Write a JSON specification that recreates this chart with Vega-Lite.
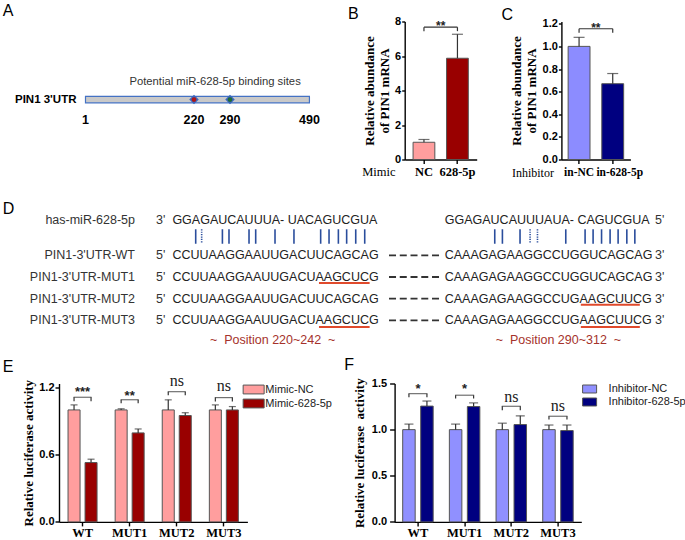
{
"$schema":"https://vega.github.io/schema/vega-lite/v6.json",
"background":"white",
"padding":{"left":2,"top":2.5,"right":0,"bottom":0},
"config":{
 "view":{"stroke":null},
 "font":"Liberation Sans",
 "axis":{"domainColor":"#000","domainWidth":1.4,"tickColor":"#000","tickWidth":1.4,"tickSize":4,"grid":false,"labelColor":"#000","labelFont":"Liberation Sans","labelFontWeight":"bold","labelFontSize":11,"titleColor":"#000","titleFont":"Liberation Serif","titleFontWeight":"bold","titleFontSize":13,"labelPadding":1,"labelOverlap":false},
 "axisY":{"tickCount":20,"labelOverlap":false,"labelSeparation":0},
 "title":{"font":"Liberation Sans","fontSize":16,"fontWeight":"normal","anchor":"start","frame":"group","offset":0,"color":"#000","baseline":"alphabetic"},
 "legend":{"labelFont":"Liberation Sans","labelFontSize":11,"labelColor":"#222","padding":0}
},
"spacing":4,
"resolve":{"scale":{"color":"independent","xOffset":"independent","strokeDash":"independent","x":"independent","y":"independent"},"legend":{"color":"independent"}},
"vconcat":[
 {"hconcat":[
   {"width":260.3,"height":138,
    "title":{"text":"A","dx":-56.3,"dy":1.1},
    "layer":[
     {"data":{"values":[{"start":1,"end":490}]},
      "mark":{"type":"rect","fill":"#c9c9c9","stroke":"#4472c4","strokeWidth":1.2},
      "encoding":{"x":{"field":"start","type":"quantitative","scale":{"domain":[1,220,290,490],"range":[26,135,171,254.4]},"axis":null},"x2":{"field":"end"},
        "y":{"datum":0.457,"type":"quantitative","scale":{"domain":[0,1],"nice":false},"axis":null},"y2":{"datum":0.411}}},
     {"data":{"values":[{"pos":220,"site":"site 1"},{"pos":290,"site":"site 2"}]},
      "mark":{"type":"point","shape":"diamond","filled":true,"size":90,"color":"#3a67c0","opacity":1},
      "encoding":{"x":{"field":"pos","type":"quantitative"},"y":{"datum":0.434}}},
     {"data":{"values":[{"pos":220,"site":"site 1"},{"pos":290,"site":"site 2"}]},
      "mark":{"type":"point","shape":"circle","filled":true,"size":22,"opacity":1},
      "encoding":{"x":{"field":"pos","type":"quantitative"},"y":{"datum":0.434},"color":{"field":"site","type":"nominal","scale":{"domain":["site 1","site 2"],"range":["#b01515","#1f6b35"]},"legend":null}}},
     {"data":{"values":[{"pos":1,"label":"1"},{"pos":220,"label":"220"},{"pos":290,"label":"290"},{"pos":490,"label":"490"}]},
      "mark":{"type":"text","font":"Liberation Sans","fontWeight":"bold","fontSize":12.5,"color":"#000","baseline":"middle","align":"center"},
      "encoding":{"x":{"field":"pos","type":"quantitative"},"y":{"datum":0.286},"text":{"field":"label"}}},
     {"data":{"values":[{"pos":261,"label":"Potential miR-628-5p binding sites"}]},
      "mark":{"type":"text","font":"Liberation Sans","fontSize":11.25,"color":"#333","baseline":"middle","align":"center"},
      "encoding":{"x":{"field":"pos","type":"quantitative"},"y":{"datum":0.565},"text":{"field":"label"}}},
     {"data":{"values":[{"pos":1,"label":"PIN1 3'UTR"}]},
      "mark":{"type":"text","font":"Liberation Sans","fontWeight":"bold","fontSize":11.5,"color":"#000","baseline":"middle","align":"right","dx":-9},
      "encoding":{"x":{"field":"pos","type":"quantitative"},"y":{"datum":0.434},"text":{"field":"label"}}}
    ]},
   {"width":72,"height":138,
    "title":{"text":"B","dx":-56.6,"dy":10.3},
    "data":{"values":[{"group":"NC","mean":1.0,"upper":1.16},{"group":"628-5p","mean":5.87,"upper":7.26}]},
    "layer":[
     {"mark":{"type":"bar","stroke":"#555","strokeWidth":1},
      "encoding":{
       "x":{"field":"group","type":"nominal","scale":{"domain":["NC","628-5p"],"paddingInner":0.35,"paddingOuter":0.25},
            "axis":{"title":"Mimic","titleFont":"Liberation Serif","titleFontWeight":"normal","titleFontSize":12.5,"titleAnchor":"start","titleAlign":"left","titleBaseline":"middle","titleX":-43,"titleY":11.5,"labelAngle":0,"labelFont":"Liberation Serif","labelFontSize":12.5,"labelPadding":1.5}},
       "y":{"field":"mean","type":"quantitative","scale":{"domain":[0,8],"nice":false},
            "axis":{"title":["Relative abundance","of PIN1 mRNA"],"values":[0,2,4,6,8],"format":"d","tickCount":20,"labelOverlap":false,"tickSize":3,"labelPadding":1,"titlePadding":3,"titleLineHeight":15}},
       "color":{"field":"group","type":"nominal","scale":{"domain":["NC","628-5p"],"range":["#ff9e9e","#990000"]},"legend":null}}},
     {"mark":{"type":"rule","color":"#333","strokeWidth":1.2},
      "encoding":{"x":{"field":"group","type":"nominal"},"y":{"field":"mean","type":"quantitative"},"y2":{"field":"upper"}}},
     {"mark":{"type":"tick","color":"#333","thickness":1.2,"size":11},
      "encoding":{"x":{"field":"group","type":"nominal"},"y":{"field":"upper","type":"quantitative"}}},
     {"mark":{"type":"rule","color":"#333","strokeWidth":1.2},
      "encoding":{"x":{"field":"group","type":"nominal"},"y":{"datum":7.44},"y2":{"datum":7.67}}},
     {"data":{"values":[{"from":"NC","to":"628-5p","top":7.67,"label":"**","ly":7.74}]},
      "mark":{"type":"rule","color":"#333","strokeWidth":1.2},
      "encoding":{"x":{"field":"from","type":"nominal","bandPosition":0.5},"x2":{"field":"to","bandPosition":0.5},"y":{"field":"top","type":"quantitative"}}},
     {"data":{"values":[{"from":"NC","to":"628-5p","top":7.67,"label":"**","ly":7.74}]},
      "mark":{"type":"text","font":"Liberation Sans","fontWeight":"bold","fontSize":12,"color":"#222","baseline":"middle","align":"center","dx":16.75},
      "encoding":{"x":{"field":"from","type":"nominal"},"y":{"field":"ly","type":"quantitative"},"text":{"field":"label"}}}
    ]},
   {"width":69,"height":138,
    "title":{"text":"C","dx":-60,"dy":8.8},
    "data":{"values":[{"group":"in-NC","mean":1.0,"upper":1.08},{"group":"in-628-5p","mean":0.67,"upper":0.76}]},
    "layer":[
     {"mark":{"type":"bar","stroke":"#555","strokeWidth":1},
      "encoding":{
       "x":{"field":"group","type":"nominal","scale":{"domain":["in-NC","in-628-5p"],"paddingInner":0.35,"paddingOuter":0.2},
            "axis":{"title":"Inhibitor","titleFont":"Liberation Serif","titleFontWeight":"normal","titleFontSize":12,"titleAnchor":"start","titleAlign":"left","titleBaseline":"middle","titleX":-50,"titleY":12.5,"labelAngle":0,"labelFont":"Liberation Serif","labelFontSize":11.5,"labelPadding":2.5,
                    "labelOffset":{"condition":{"test":"datum.value === 'in-628-5p'","value":7},"value":0}}},
       "y":{"field":"mean","type":"quantitative","scale":{"domain":[0,1.22],"nice":false},
            "axis":{"title":["Relative abundance","of PIN1 mRNA"],"values":[0,0.2,0.4,0.6,0.8,1.0,1.2],"tickCount":20,"labelOverlap":false,"format":".1f","tickSize":3,"labelPadding":1,"titlePadding":4,"titleLineHeight":15}},
       "color":{"field":"group","type":"nominal","scale":{"domain":["in-NC","in-628-5p"],"range":["#8c8cff","#000080"]},"legend":null}}},
     {"mark":{"type":"rule","color":"#333","strokeWidth":1.2},
      "encoding":{"x":{"field":"group","type":"nominal"},"y":{"field":"mean","type":"quantitative"},"y2":{"field":"upper"}}},
     {"mark":{"type":"tick","color":"#333","thickness":1.2,"size":11},
      "encoding":{"x":{"field":"group","type":"nominal"},"y":{"field":"upper","type":"quantitative"}}},
     {"mark":{"type":"rule","color":"#333","strokeWidth":1.2},
      "encoding":{"x":{"field":"group","type":"nominal"},"y":{"datum":1.12},"y2":{"datum":1.156}}},
     {"data":{"values":[{"from":"in-NC","to":"in-628-5p","top":1.156,"label":"**","ly":1.165}]},
      "mark":{"type":"rule","color":"#333","strokeWidth":1.2},
      "encoding":{"x":{"field":"from","type":"nominal","bandPosition":0.5},"x2":{"field":"to","bandPosition":0.5},"y":{"field":"top","type":"quantitative"}}},
     {"data":{"values":[{"from":"in-NC","to":"in-628-5p","top":1.156,"label":"**","ly":1.165}]},
      "mark":{"type":"text","font":"Liberation Sans","fontWeight":"bold","fontSize":12,"color":"#222","baseline":"middle","align":"center","dx":16.8},
      "encoding":{"x":{"field":"from","type":"nominal"},"y":{"field":"ly","type":"quantitative"},"text":{"field":"label"}}}
    ]}
  ],
  "spacing":84.7,"bounds":"flush",
  "resolve":{"scale":{"color":"independent","xOffset":"independent","strokeDash":"independent","x":"independent","y":"independent"},"legend":{"color":"independent"}}},
 {"width":560,"height":170,
  "title":{"text":"D","dx":-56.3,"dy":38.9},
  "data":{"values":[
    {"name":"has-miR-628-5p","left":"3'","seq1":"GGAGAUCAUUUA- UACAGUCGUA","seq2":"GGAGAUCAUUUAUA- CAGUCGUA","right":"5'","line":0.36},
    {"name":"PIN1-3'UTR-WT","left":"5'","seq1":"CCUUAAGGAAUUGACUUCAGCAG","seq2":"CAAAGAGAAGGCCUGGUCAGCAG","right":"3'","line":2},
    {"name":"PIN1-3'UTR-MUT1","left":"5'","seq1":"CCUUAAGGAAUUGACUAAGCUCG","seq2":"CAAAGAGAAGGCCUGGUCAGCAG","right":"3'","line":3},
    {"name":"PIN1-3'UTR-MUT2","left":"5'","seq1":"CCUUAAGGAAUUGACUUCAGCAG","seq2":"CAAAGAGAAGGCCUGAAGCUUCG","right":"3'","line":4},
    {"name":"PIN1-3'UTR-MUT3","left":"5'","seq1":"CCUUAAGGAAUUGACUAAGCUCG","seq2":"CAAAGAGAAGGCCUGAAGCUUCG","right":"3'","line":5}
  ]},
  "layer":[
   {"mark":{"type":"text","align":"right","baseline":"middle","fontSize":12.5,"color":"#333"},
    "encoding":{"x":{"datum":-4.2,"type":"quantitative","scale":{"domain":[-12.74,50.18],"nice":false,"zero":false},"axis":null},
      "y":{"field":"line","type":"quantitative","scale":{"domain":[-1.355,6.479],"reverse":true,"nice":false,"zero":false},"axis":null},
      "text":{"field":"name"}}},
   {"mark":{"type":"text","align":"center","baseline":"middle","fontSize":12.5,"color":"#333"},
    "encoding":{"x":{"datum":-1.31,"type":"quantitative"},"y":{"field":"line","type":"quantitative"},"text":{"field":"left"}}},
   {"mark":{"type":"text","align":"left","baseline":"middle","fontSize":12.5,"color":"#222"},
    "encoding":{"x":{"datum":0,"type":"quantitative"},"y":{"field":"line","type":"quantitative"},"text":{"field":"seq1"}}},
   {"mark":{"type":"text","align":"left","baseline":"middle","fontSize":12.5,"color":"#222"},
    "encoding":{"x":{"datum":30.6,"type":"quantitative"},"y":{"field":"line","type":"quantitative"},"text":{"field":"seq2"}}},
   {"mark":{"type":"text","align":"center","baseline":"middle","fontSize":12.5,"color":"#333"},
    "encoding":{"x":{"datum":54.75,"type":"quantitative"},"y":{"field":"line","type":"quantitative"},"text":{"field":"right"}}},
   {"transform":[{"filter":"datum.line >= 2"}],
    "mark":{"type":"rule","color":"#333","strokeWidth":1.8,"strokeDash":[7,3.75]},
    "encoding":{"x":{"datum":24.34,"type":"quantitative"},"x2":{"datum":29.96},"y":{"field":"line","type":"quantitative"}}},
   {"data":{"values":[
     {"col":2.62,"kind":"solid"},{"col":3.29,"kind":"dotted"},{"col":5.62,"kind":"solid"},{"col":6.36,"kind":"solid"},{"col":8.61,"kind":"solid"},{"col":9.36,"kind":"solid"},{"col":11.53,"kind":"solid"},{"col":13.66,"kind":"solid"},{"col":16.66,"kind":"solid"},{"col":17.6,"kind":"solid"},{"col":18.65,"kind":"solid"},{"col":19.58,"kind":"solid"},{"col":20.6,"kind":"solid"},{"col":21.61,"kind":"solid"},
     {"col":36.22,"kind":"solid"},{"col":37.08,"kind":"solid"},{"col":39.06,"kind":"solid"},{"col":40.19,"kind":"dotted"},{"col":41.02,"kind":"dotted"},{"col":44.2,"kind":"solid"},{"col":46.37,"kind":"solid"},{"col":47.27,"kind":"solid"},{"col":48.22,"kind":"solid"},{"col":49.18,"kind":"solid"},{"col":50.08,"kind":"solid"},{"col":51.06,"kind":"solid"},{"col":51.96,"kind":"solid"}
    ]},
    "mark":{"type":"rule","color":"#2a4d9c","strokeWidth":1.6},
    "encoding":{"x":{"field":"col","type":"quantitative"},"y":{"datum":0.8},"y2":{"datum":1.465},
      "strokeDash":{"field":"kind","type":"nominal","scale":{"domain":["solid","dotted"],"range":[[1,0],[1.2,1.2]]},"legend":null}}},
   {"data":{"values":[{"from":16.47,"to":22.16,"uy":3.28},{"from":45.89,"to":52.52,"uy":4.28},{"from":16.47,"to":22.16,"uy":5.3},{"from":45.89,"to":52.52,"uy":5.3}]},
    "mark":{"type":"rule","color":"#e04a2c","strokeWidth":2},
    "encoding":{"x":{"field":"from","type":"quantitative"},"x2":{"field":"to"},"y":{"field":"uy","type":"quantitative"}}},
   {"data":{"values":[{"label":"~\u00a0\u00a0Position 220~242\u00a0\u00a0~","col":11.27},{"label":"~\u00a0\u00a0Position 290~312\u00a0\u00a0~","col":43.37}]},
    "mark":{"type":"text","align":"center","baseline":"middle","fontSize":12.5,"color":"#a5322b"},
    "encoding":{"x":{"field":"col","type":"quantitative"},"y":{"datum":5.92},"text":{"field":"label"}}}
  ]},
 {"hconcat":[
   {"width":188.4,"height":138.4,
    "title":{"text":"E","dx":-56.3,"dy":5.7},
    "data":{"values":[
      {"construct":"WT","treatment":"Mimic-NC","mean":1.0,"upper":1.045},
      {"construct":"WT","treatment":"Mimic-628-5p","mean":0.53,"upper":0.56},
      {"construct":"MUT1","treatment":"Mimic-NC","mean":1.0,"upper":1.01},
      {"construct":"MUT1","treatment":"Mimic-628-5p","mean":0.795,"upper":0.83},
      {"construct":"MUT2","treatment":"Mimic-NC","mean":1.0,"upper":1.09},
      {"construct":"MUT2","treatment":"Mimic-628-5p","mean":0.95,"upper":0.975},
      {"construct":"MUT3","treatment":"Mimic-NC","mean":1.0,"upper":1.045},
      {"construct":"MUT3","treatment":"Mimic-628-5p","mean":1.0,"upper":1.03}
    ]},
    "layer":[
     {"mark":{"type":"bar","stroke":"#555","strokeWidth":1},
      "encoding":{
       "x":{"field":"construct","type":"nominal","scale":{"domain":["WT","MUT1","MUT2","MUT3"],"paddingInner":0,"paddingOuter":0},"axis":{"title":null,"labelAngle":0,"labelFont":"Liberation Serif","labelFontSize":12.5,"labelPadding":1}},
       "xOffset":{"field":"treatment","type":"nominal","scale":{"domain":["Mimic-NC","Mimic-628-5p"],"paddingInner":0.294,"paddingOuter":0.532}},
       "y":{"field":"mean","type":"quantitative","scale":{"domain":[0,1.236],"nice":false},"axis":{"title":"Relative luciferase activity","values":[0,0.3,0.6,0.9,1.2],"tickCount":20,"tickMinStep":0.3,"labelOverlap":false,"format":".1f","tickSize":4,"labelPadding":1,"titlePadding":3}},
       "color":{"field":"treatment","type":"nominal","scale":{"domain":["Mimic-NC","Mimic-628-5p"],"range":["#ff9e9e","#990000"]},
         "legend":{"orient":"none","legendX":188.65,"legendY":0,"title":null,"symbolType":"M-2,-0.84H2V0.84H-2Z","symbolSize":110.25,"symbolStrokeColor":"#555","symbolStrokeWidth":1,"labelOffset":5.65,"rowPadding":0,"labelFontSize":11}}}},
     {"mark":{"type":"rule","color":"#333","strokeWidth":1.2},
      "encoding":{"x":{"field":"construct","type":"nominal"},"xOffset":{"field":"treatment","type":"nominal"},"y":{"field":"mean","type":"quantitative"},"y2":{"field":"upper"}}},
     {"mark":{"type":"tick","color":"#333","thickness":1.2,"size":7},
      "encoding":{"x":{"field":"construct","type":"nominal"},"xOffset":{"field":"treatment","type":"nominal"},"y":{"field":"upper","type":"quantitative"}}},
     {"transform":[{"lookup":"construct","from":{"data":{"values":[{"construct":"WT","top":1.113,"bottom":1.078},{"construct":"MUT1","top":1.091,"bottom":1.06},{"construct":"MUT2","top":1.163,"bottom":1.131},{"construct":"MUT3","top":1.11,"bottom":1.075}]},"key":"construct","fields":["top","bottom"]}}],
      "mark":{"type":"rule","color":"#333","strokeWidth":1.2},
      "encoding":{"x":{"field":"construct","type":"nominal"},"xOffset":{"field":"treatment","type":"nominal"},"y":{"field":"bottom","type":"quantitative"},"y2":{"field":"top"}}},
     {"data":{"values":[{"construct":"WT","top":1.113},{"construct":"MUT1","top":1.091},{"construct":"MUT2","top":1.163},{"construct":"MUT3","top":1.11}]},
      "mark":{"type":"tick","color":"#333","thickness":1.2,"size":18},
      "encoding":{"x":{"field":"construct","type":"nominal"},"y":{"field":"top","type":"quantitative"}}},
     {"data":{"values":[{"construct":"WT","label":"***","ly":1.158},{"construct":"MUT1","label":"**","ly":1.127}]},
      "mark":{"type":"text","font":"Liberation Sans","fontWeight":"bold","fontSize":13,"color":"#222","baseline":"middle","align":"center"},
      "encoding":{"x":{"field":"construct","type":"nominal"},"y":{"field":"ly","type":"quantitative"},"text":{"field":"label"}}},
     {"data":{"values":[{"construct":"MUT2","label":"ns","ly":1.258},{"construct":"MUT3","label":"ns","ly":1.213}]},
      "mark":{"type":"text","font":"Liberation Serif","fontSize":16,"color":"#222","baseline":"middle","align":"center"},
      "encoding":{"x":{"field":"construct","type":"nominal"},"y":{"field":"ly","type":"quantitative"},"text":{"field":"label"}}}
    ]},
   {"width":186.7,"height":138.4,
    "title":{"text":"F","dx":-50.3,"dy":-0.3},
    "data":{"values":[
      {"construct":"WT","treatment":"Inhibitor-NC","mean":1.0,"upper":1.06},
      {"construct":"WT","treatment":"Inhibitor-628-5p","mean":1.255,"upper":1.31},
      {"construct":"MUT1","treatment":"Inhibitor-NC","mean":1.0,"upper":1.06},
      {"construct":"MUT1","treatment":"Inhibitor-628-5p","mean":1.25,"upper":1.29},
      {"construct":"MUT2","treatment":"Inhibitor-NC","mean":1.0,"upper":1.07},
      {"construct":"MUT2","treatment":"Inhibitor-628-5p","mean":1.055,"upper":1.15},
      {"construct":"MUT3","treatment":"Inhibitor-NC","mean":1.0,"upper":1.05},
      {"construct":"MUT3","treatment":"Inhibitor-628-5p","mean":0.99,"upper":1.05}
    ]},
    "layer":[
     {"mark":{"type":"bar","stroke":"#555","strokeWidth":1},
      "encoding":{
       "x":{"field":"construct","type":"nominal","scale":{"domain":["WT","MUT1","MUT2","MUT3"],"paddingInner":0,"paddingOuter":0},"axis":{"title":null,"labelAngle":0,"labelFont":"Liberation Serif","labelFontSize":12.5,"labelPadding":1}},
       "xOffset":{"field":"treatment","type":"nominal","scale":{"domain":["Inhibitor-NC","Inhibitor-628-5p"],"paddingInner":0.306,"paddingOuter":0.45}},
       "y":{"field":"mean","type":"quantitative","scale":{"domain":[0,1.5],"nice":false},"axis":{"title":"Relative luciferase \u00a0activity","values":[0,0.5,1.0,1.5],"tickCount":20,"labelOverlap":false,"format":".1f","tickSize":5,"labelPadding":3,"titlePadding":5}},
       "color":{"field":"treatment","type":"nominal","scale":{"domain":["Inhibitor-NC","Inhibitor-628-5p"],"range":["#9090ff","#000080"]},
         "legend":{"orient":"none","legendX":189.5,"legendY":0,"title":null,"symbolType":"M-2,-1.14H2V1.14H-2Z","symbolSize":49,"symbolStrokeColor":"#555","symbolStrokeWidth":1,"labelOffset":13.5,"rowPadding":0,"labelFontSize":11}}}},
     {"mark":{"type":"rule","color":"#333","strokeWidth":1.2},
      "encoding":{"x":{"field":"construct","type":"nominal"},"xOffset":{"field":"treatment","type":"nominal"},"y":{"field":"mean","type":"quantitative"},"y2":{"field":"upper"}}},
     {"mark":{"type":"tick","color":"#333","thickness":1.2,"size":9},
      "encoding":{"x":{"field":"construct","type":"nominal"},"xOffset":{"field":"treatment","type":"nominal"},"y":{"field":"upper","type":"quantitative"}}},
     {"transform":[{"lookup":"construct","from":{"data":{"values":[{"construct":"WT","top":1.39,"bottom":1.35},{"construct":"MUT1","top":1.373,"bottom":1.337},{"construct":"MUT2","top":1.253,"bottom":1.21},{"construct":"MUT3","top":1.145,"bottom":1.11}]},"key":"construct","fields":["top","bottom"]}}],
      "mark":{"type":"rule","color":"#333","strokeWidth":1.2},
      "encoding":{"x":{"field":"construct","type":"nominal"},"xOffset":{"field":"treatment","type":"nominal"},"y":{"field":"bottom","type":"quantitative"},"y2":{"field":"top"}}},
     {"data":{"values":[{"construct":"WT","top":1.39},{"construct":"MUT1","top":1.373},{"construct":"MUT2","top":1.253},{"construct":"MUT3","top":1.145}]},
      "mark":{"type":"tick","color":"#333","thickness":1.2,"size":19},
      "encoding":{"x":{"field":"construct","type":"nominal"},"y":{"field":"top","type":"quantitative"}}},
     {"data":{"values":[{"construct":"WT","label":"*","ly":1.443},{"construct":"MUT1","label":"*","ly":1.443}]},
      "mark":{"type":"text","font":"Liberation Sans","fontWeight":"bold","fontSize":13,"color":"#222","baseline":"middle","align":"center"},
      "encoding":{"x":{"field":"construct","type":"nominal"},"y":{"field":"ly","type":"quantitative"},"text":{"field":"label"}}},
     {"data":{"values":[{"construct":"MUT2","label":"ns","ly":1.353},{"construct":"MUT3","label":"ns","ly":1.256}]},
      "mark":{"type":"text","font":"Liberation Serif","fontSize":16,"color":"#222","baseline":"middle","align":"center"},
      "encoding":{"x":{"field":"construct","type":"nominal"},"y":{"field":"ly","type":"quantitative"},"text":{"field":"label"}}}
    ]}
  ],
  "spacing":146.6,"bounds":"flush",
  "resolve":{"scale":{"color":"independent","xOffset":"independent","strokeDash":"independent","x":"independent","y":"independent"},"legend":{"color":"independent"}}}
]
}
